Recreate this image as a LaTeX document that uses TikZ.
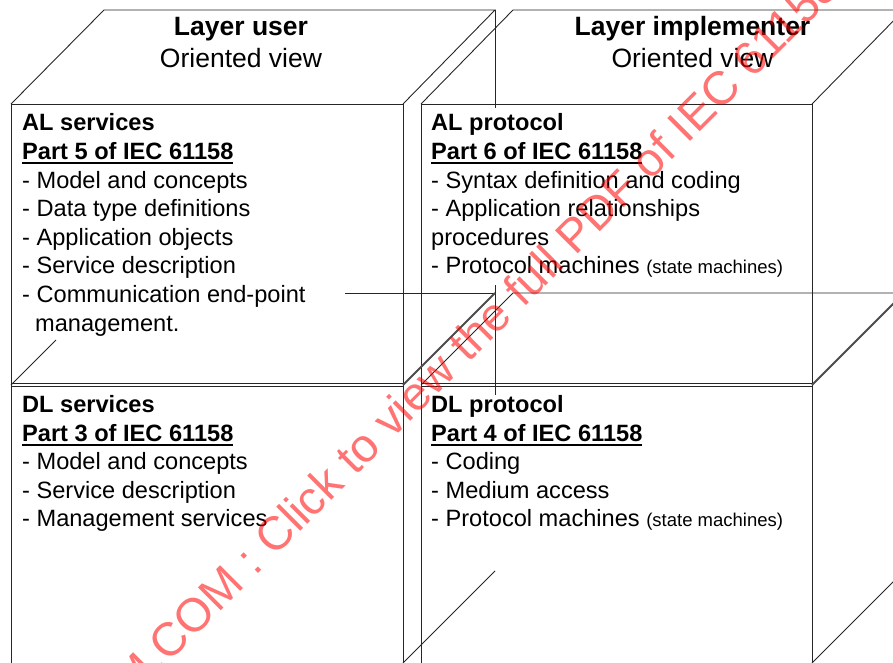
\documentclass[tikz,border=0pt]{standalone}
\usepackage{fontspec}
\setmainfont{Liberation Sans}
\newcommand{\myBody}{\fontsize{23.6}{28.6}\selectfont}
\newcommand{\mySmall}{\fontsize{18.5}{22}\selectfont}
\newcommand{\myUl}[1]{\leavevmode\setbox0\hbox{#1}\rlap{\rule[-4.6pt]{\wd0}{1.8pt}}\box0}
\begin{document}
\begin{tikzpicture}[x=1pt,y=-1pt,
  edge/.style={line width=0.9pt, draw=black!85},
  thickedge/.style={line width=1.8pt, draw=black!70},
  txt/.style={anchor=base west, inner sep=0pt},
  hdr/.style={anchor=base, inner sep=0pt},
  wm/.style={text=red, text opacity=0.55, inner sep=0pt, anchor=base west, rotate=45, font=\fontsize{47}{50}\selectfont}]
\useasboundingbox (0,0) rectangle (893,663);
\fill[white] (0,0) rectangle (893,663);
\clip (0,0) rectangle (893,663);
% corners
\coordinate (aflt) at (11,104);   \coordinate (afrt) at (403,104);
\coordinate (ablt) at (104,10);   \coordinate (abrt) at (495,10);
\coordinate (pflt) at (421,104);  \coordinate (pfrt) at (812,104);
\coordinate (pblt) at (513,10);   \coordinate (pbrt) at (904,10);
\coordinate (dflt) at (11,385);   \coordinate (dfrt) at (403,385);
\coordinate (dbrt) at (495,293);
\coordinate (qflt) at (421,385);  \coordinate (qfrt) at (812,385);
\coordinate (qblt) at (513,293);  \coordinate (qbrt) at (904,293);
% AL services box
\draw[edge] (11,663) -- (aflt) -- (afrt) -- (403,663);
\draw[edge] (aflt) -- (ablt) -- (abrt) -- (afrt);
\draw[edge] (abrt) -- (495,108);
\draw[edge] (345,293) -- (dbrt);
\draw[edge] (495,285) -- (495,395);
\draw[edge] (dflt) -- (56,340);
% AL protocol box
\draw[edge] (421,663) -- (pflt) -- (pfrt) -- (812,663);
\draw[edge] (pflt) -- (pblt) -- (pbrt);
\draw[edge] (pfrt) -- (pbrt);
% DL level
\draw[edge] (11,383.6) -- (403,383.6);
\draw[edge] (11,386.2) -- (403,386.2);
\draw[edge] (421,383.6) -- (812,383.6);
\draw[edge] (421,386.2) -- (812,386.2);
\draw[thickedge] (dfrt) -- (dbrt);
\draw[edge] (qflt) -- (qblt) -- (qbrt);
\draw[thickedge] (qfrt) -- (qbrt);
\draw[edge] (403,663) -- (495,571);
\draw[edge] (812,663) -- (904,571);
% headers
\node[hdr] (hu1) at (241,36) {\fontsize{26.5}{30}\selectfont\textbf{Layer user}};
\node[hdr] (hu2) at (241,68) {\fontsize{26.5}{30}\selectfont Oriented view};
\node[hdr] (hi1) at (692.5,36) {\fontsize{26.5}{30}\selectfont\textbf{Layer implementer}};
\node[hdr] (hi2) at (692.5,68) {\fontsize{26.5}{30}\selectfont Oriented view};
% texts
\node[txt] (als) at (22,131) {\parbox[t]{375pt}{\raggedright\myBody
\textbf{AL services}\\
\myUl{\textbf{Part 5 of IEC 61158}}\\
- Model and concepts\\
- Data type definitions\\
- Application objects\\
- Service description\\
- Communication end-point\\
\hspace*{13pt}management.}};
\node[txt] (alp) at (431,131) {\parbox[t]{375pt}{\raggedright\myBody
\textbf{AL protocol}\\
\myUl{\textbf{Part 6 of IEC 61158}}\\
- Syntax definition and coding\\
- Application relationships\\
procedures\\
- Protocol machines {\mySmall (state machines)}}};
\node[txt] (dls) at (22,412.5) {\parbox[t]{375pt}{\raggedright\myBody
\textbf{DL services}\\
\myUl{\textbf{Part 3 of IEC 61158}}\\
- Model and concepts\\
- Service description\\
- Management services}};
\node[txt] (dlp) at (431,412.5) {\parbox[t]{375pt}{\raggedright\myBody
\textbf{DL protocol}\\
\myUl{\textbf{Part 4 of IEC 61158}}\\
- Coding\\
- Medium access\\
- Protocol machines {\mySmall (state machines)}}};
% watermark
\node[wm] (wmark) at (274,558) {\llap{IECNORM.COM :\ }Click to view the full PDF of IEC 61158};
\end{tikzpicture}
\end{document}
